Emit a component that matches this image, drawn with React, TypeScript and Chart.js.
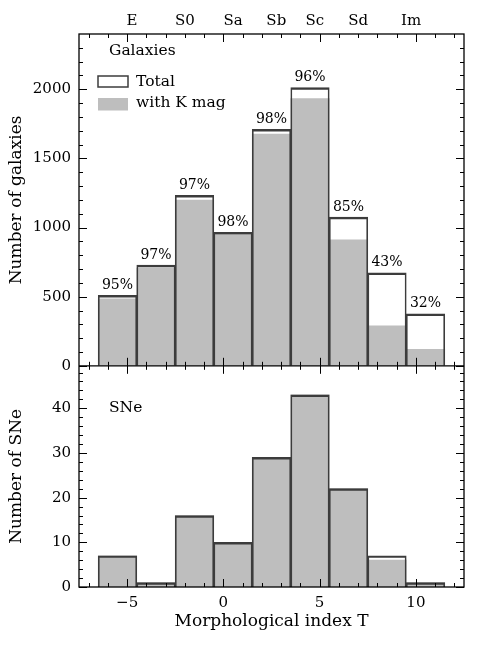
import { useEffect, useRef } from 'react';
import { Chart, registerables } from 'chart.js';

Chart.register(...registerables);

// ---- data ----
const T_CENTERS = [-5.5, -3.5, -1.5, 0.5, 2.5, 4.5, 6.5, 8.5, 10.5];
const GAL_TOTAL = [510, 729, 1233, 965, 1710, 2012, 1076, 673, 376];
const GAL_KMAG = [485, 707, 1198, 946, 1676, 1932, 912, 289, 120];
const GAL_PCT = ['95%', '97%', '97%', '98%', '98%', '96%', '85%', '43%', '32%'];
const SN_TOTAL = [7, 1, 16, 10, 29, 43, 22, 7, 1];
const SN_KMAG = [7, 1, 16, 10, 29, 43, 22, 6, 1];
const TYPE_LABELS = ['E', 'S0', 'Sa', 'Sb', 'Sc', 'Sd', 'Im'];
const TYPE_POS = [-4.75, -2, 0.5, 2.75, 4.75, 7, 9.75];
const X_TICKS = [-5, 0, 5, 10];
const GAL_TICKS = [0, 500, 1000, 1500, 2000];
const SN_TICKS = [0, 10, 20, 30, 40];

const SERIF = "'DejaVu Serif', serif";
const BAR_GRAY = '#bebebe';
const EDGE = '#3c3c3c';

const barBorder = { top: 1.8, left: 1, right: 1, bottom: 0 };

const panelPlugin = {
  id: 'panelDecor',
  afterDatasetsDraw(chart: any) {
    const ctx = chart.ctx as CanvasRenderingContext2D;
    const xs = chart.scales.x;
    const yG = chart.scales.yGal;
    const yS = chart.scales.ySN;
    const left = chart.chartArea.left;
    const right = chart.chartArea.right;
    const topG = yG.top;
    const botG = yG.bottom;
    const topS = yS.top;
    const botS = yS.bottom;
    ctx.save();
    ctx.strokeStyle = '#000';
    ctx.lineWidth = 1;
    ctx.beginPath();
    for (let v = Math.ceil(xs.min); v <= Math.floor(xs.max); v++) {
      const px = Math.round(xs.getPixelForValue(v)) + 0.5;
      const len = v % 5 === 0 ? 8 : 4;
      ctx.moveTo(px, topG); ctx.lineTo(px, topG + len);
      ctx.moveTo(px, botG); ctx.lineTo(px, botG - len);
      ctx.moveTo(px, topS); ctx.lineTo(px, topS + len);
      ctx.moveTo(px, botS); ctx.lineTo(px, botS - len);
    }
    for (let v = 0; v < yG.max; v += 100) {
      const py = Math.round(yG.getPixelForValue(v)) + 0.5;
      const len = v % 500 === 0 ? 8 : 4;
      ctx.moveTo(left, py); ctx.lineTo(left + len, py);
      ctx.moveTo(right, py); ctx.lineTo(right - len, py);
    }
    for (let v = 0; v < yS.max; v += 2) {
      const py = Math.round(yS.getPixelForValue(v)) + 0.5;
      const len = v % 10 === 0 ? 8 : 4;
      ctx.moveTo(left, py); ctx.lineTo(left + len, py);
      ctx.moveTo(right, py); ctx.lineTo(right - len, py);
    }
    ctx.stroke();
    // frame
    ctx.lineWidth = 1.3;
    ctx.strokeRect(left, topG, right - left, botS - topG);
    ctx.beginPath();
    ctx.moveTo(left, botG);
    ctx.lineTo(right, botG);
    ctx.stroke();

    // percentage labels above total bars
    const meta = chart.getDatasetMeta(0);
    ctx.fillStyle = '#000';
    ctx.font = `14px ${SERIF}`;
    ctx.textAlign = 'center';
    ctx.textBaseline = 'bottom';
    meta.data.forEach((el: any, i: number) => {
      ctx.fillText(GAL_PCT[i], el.x, el.y - 3);
    });

    // panel labels and legend
    ctx.font = `15.5px ${SERIF}`;
    ctx.textAlign = 'left';
    ctx.textBaseline = 'middle';
    ctx.fillText('Galaxies', left + 30, topG + 16.5);
    ctx.fillText('SNe', left + 30, topS + 42);

    const lx = left + 19;
    ctx.lineWidth = 1.5;
    ctx.strokeStyle = EDGE;
    ctx.strokeRect(lx, topG + 42, 30, 11);
    ctx.fillStyle = BAR_GRAY;
    ctx.fillRect(lx, topG + 64, 30, 12.5);
    ctx.fillStyle = '#000';
    ctx.fillText('Total', lx + 38, topG + 48);
    ctx.fillText('with K mag', lx + 38, topG + 68.5);
    ctx.restore();
  },
};

function toPoints(values: number[]) {
  return T_CENTERS.map((t, i) => ({ x: t, y: values[i] }));
}

export default function App() {
  const canvasRef = useRef<HTMLCanvasElement | null>(null);

  useEffect(() => {
    const canvas = canvasRef.current;
    if (!canvas) return;
    const tickFont = { family: SERIF, size: 15 };
    const titleFont = { family: SERIF, size: 17 };
    const common = {
      grid: { display: false, drawTicks: false },
      border: { display: false },
    };
    const chart = new Chart(canvas, {
      type: 'bar',
      data: {
        datasets: [
          {
            label: 'Total',
            data: toPoints(GAL_TOTAL),
            yAxisID: 'yGal',
            xAxisID: 'x',
            backgroundColor: 'rgba(0,0,0,0)',
            borderColor: EDGE,
            borderWidth: barBorder,
            borderSkipped: 'bottom',
          },
          {
            label: 'with K mag',
            data: toPoints(GAL_KMAG),
            yAxisID: 'yGal',
            xAxisID: 'x',
            backgroundColor: BAR_GRAY,
            borderWidth: 0,
          },
          {
            label: 'SNe total',
            data: toPoints(SN_TOTAL),
            yAxisID: 'ySN',
            xAxisID: 'x',
            backgroundColor: 'rgba(0,0,0,0)',
            borderColor: EDGE,
            borderWidth: barBorder,
            borderSkipped: 'bottom',
          },
          {
            label: 'SNe with K mag',
            data: toPoints(SN_KMAG),
            yAxisID: 'ySN',
            xAxisID: 'x',
            backgroundColor: BAR_GRAY,
            borderWidth: 0,
          },
        ],
      },
      options: {
        animation: false,
        responsive: false,
        devicePixelRatio: 1,
        layout: { padding: { left: 0, right: 27, top: 0, bottom: 0 } },
        datasets: {
          bar: {
            grouped: false,
            categoryPercentage: 1,
            barPercentage: 1,
          },
        },
        plugins: {
          legend: { display: false },
          tooltip: { enabled: false },
        },
        scales: {
          x: {
            type: 'linear',
            position: 'bottom',
            min: -7.5,
            max: 12.5,
            offset: false,
            ...common,
            afterBuildTicks: (axis: any) => {
              axis.ticks = X_TICKS.map((v) => ({ value: v }));
            },
            afterFit: (axis: any) => {
              axis.height = 66;
            },
            ticks: {
              font: tickFont,
              color: '#000',
              padding: 7,
              maxRotation: 0,
              autoSkip: false,
              callback: (v: any) => String(v).replace('-', '\u2212'),
            },
            title: {
              display: true,
              text: 'Morphological index T',
              font: titleFont,
              color: '#000',
              padding: { top: 0, bottom: 21 },
            },
          },
          x2: {
            type: 'linear',
            position: 'top',
            min: -7.5,
            max: 12.5,
            offset: false,
            ...common,
            afterBuildTicks: (axis: any) => {
              axis.ticks = TYPE_POS.map((v) => ({ value: v }));
            },
            afterFit: (axis: any) => {
              axis.height = 34;
            },
            ticks: {
              font: tickFont,
              color: '#000',
              padding: 4,
              maxRotation: 0,
              autoSkip: false,
              callback: (_v: any, i: number) => TYPE_LABELS[i],
            },
          },
          ySN: {
            type: 'linear',
            position: 'left',
            stack: 'panels',
            stackWeight: 2,
            min: 0,
            max: 49.5,
            ...common,
            afterBuildTicks: (axis: any) => {
              axis.ticks = SN_TICKS.map((v) => ({ value: v }));
            },
            afterFit: (axis: any) => {
              axis.width = 79;
            },
            ticks: {
              font: tickFont,
              color: '#000',
              padding: 8,
              autoSkip: false,
              callback: (v: any) => String(v),
            },
            title: {
              display: true,
              text: 'Number of SNe',
              font: titleFont,
              color: '#000',
              padding: { top: 6, bottom: 0 },
            },
          },
          yGal: {
            type: 'linear',
            position: 'left',
            stack: 'panels',
            stackWeight: 3,
            min: 0,
            max: 2400,
            ...common,
            afterBuildTicks: (axis: any) => {
              axis.ticks = GAL_TICKS.map((v) => ({ value: v }));
            },
            afterFit: (axis: any) => {
              axis.width = 79;
            },
            ticks: {
              font: tickFont,
              color: '#000',
              padding: 8,
              autoSkip: false,
              callback: (v: any) => String(v),
            },
            title: {
              display: true,
              text: 'Number of galaxies',
              font: titleFont,
              color: '#000',
              padding: { top: 6, bottom: 0 },
            },
          },
        },
      } as any,
      plugins: [panelPlugin],
    });
    return () => chart.destroy();
  }, []);

  return (
    <div style={{ position: 'absolute', left: 0, top: 0, width: 491, height: 653, background: '#fff' }}>
      <canvas ref={canvasRef} width={491} height={653} style={{ width: 491, height: 653, display: 'block' }} />
    </div>
  );
}
